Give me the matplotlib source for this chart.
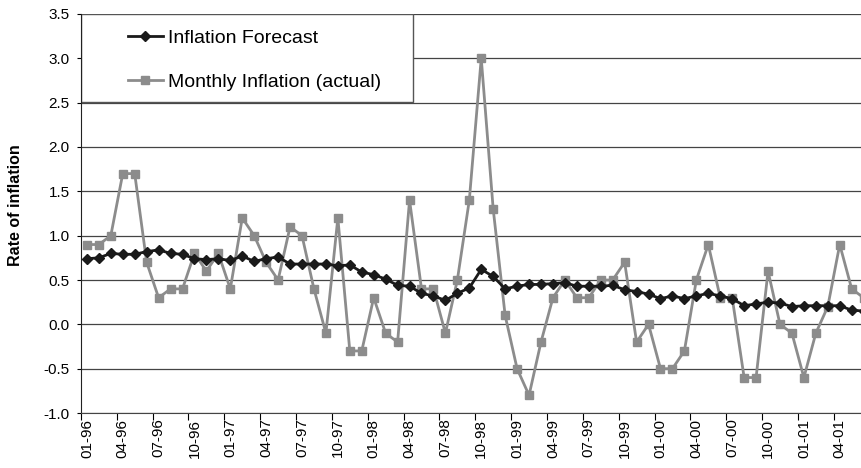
import matplotlib
matplotlib.use("Agg")
import matplotlib.pyplot as plt
from matplotlib.patches import Rectangle

plt.rcParams['font.family'] = ['Liberation Sans', 'DejaVu Sans']
plt.rcParams['axes.unicode_minus'] = True

# monthly data, 01-96 .. 06-01
forecast = [0.74, 0.75, 0.80, 0.79, 0.79, 0.82, 0.84, 0.80, 0.79, 0.74, 0.73, 0.74, 0.72, 0.77, 0.71, 0.74, 0.76,
            0.68, 0.68, 0.68, 0.68, 0.66, 0.67, 0.59, 0.56, 0.51, 0.44, 0.43, 0.35, 0.32, 0.27, 0.35, 0.41,
            0.62, 0.54, 0.40, 0.43, 0.45, 0.45, 0.46, 0.47, 0.43, 0.43, 0.43, 0.44, 0.39, 0.37, 0.34, 0.29,
            0.32, 0.29, 0.32, 0.35, 0.32, 0.29, 0.21, 0.23, 0.25, 0.24, 0.20, 0.21, 0.21, 0.21, 0.21, 0.16, 0.15]
actual = [0.9, 0.9, 1.0, 1.7, 1.7, 0.7, 0.3, 0.4, 0.4, 0.8, 0.6, 0.8, 0.4, 1.2, 1.0, 0.7, 0.5,
          1.1, 1.0, 0.4, -0.1, 1.2, -0.3, -0.3, 0.3, -0.1, -0.2, 1.4, 0.4, 0.4, -0.1, 0.5, 1.4,
          3.0, 1.3, 0.1, -0.5, -0.8, -0.2, 0.3, 0.5, 0.3, 0.3, 0.5, 0.5, 0.7, -0.2, 0.0, -0.5,
          -0.5, -0.3, 0.5, 0.9, 0.3, 0.3, -0.6, -0.6, 0.6, 0.0, -0.1, -0.6, -0.1, 0.2, 0.9, 0.4, 0.3]
tick_labels = ['01-96', '04-96', '07-96', '10-96', '01-97', '04-97', '07-97', '10-97',
               '01-98', '04-98', '07-98', '10-98', '01-99', '04-99', '07-99', '10-99',
               '01-00', '04-00', '07-00', '10-00', '01-01', '04-01']
y_ticks = [-1.0, -0.5, 0.0, 0.5, 1.0, 1.5, 2.0, 2.5, 3.0, 3.5]

months = list(range(len(actual)))

fig = plt.figure(figsize=(8.61, 4.68), dpi=100)
ax = fig.add_axes([0.094, 0.1175, 0.916, 0.8526])

ax.plot(months, forecast, color='#1a1a1a', lw=2, marker='D', ms=5.5, zorder=4,
        label='Inflation Forecast')
ax.plot(months, actual, color='#8c8c8c', lw=2, marker='s', ms=6, zorder=3,
        label='Monthly Inflation (actual)')

ax.set_xlim(-0.5, len(actual) - 0.5)
ax.set_ylim(-1.0, 3.5)
ax.set_yticks(y_ticks)
ax.set_yticklabels([f'{v:.1f}' for v in y_ticks], fontsize=11)
ax.yaxis.grid(True, color='#444444', lw=0.9)
ax.set_axisbelow(True)
ax.tick_params(axis='y', length=3, width=0.8, pad=5)

# labels sit on the months, ticks on the month boundaries
ax.set_xticks(months[::3])
ax.set_xticklabels(tick_labels, rotation=90, fontsize=11)
ax.set_xticks([m - 0.5 for m in months[::3]], minor=True)
ax.tick_params(axis='x', which='major', length=0, pad=4)
ax.tick_params(axis='x', which='minor', length=5, width=0.8)

for s in ['top', 'right']:
    ax.spines[s].set_visible(False)
ax.spines['left'].set_color('#222222')
ax.spines['bottom'].set_color('#444444')

ax.set_ylabel('Rate of inflation', fontsize=11.5, fontweight='bold')
ax.yaxis.set_label_coords(-0.074, 0.52)

# legend box
ax.add_patch(Rectangle((0, 0.779), 0.421, 0.221, transform=ax.transAxes,
                       facecolor='white', edgecolor='#555555', lw=1, zorder=2.5))
ax.legend(loc='upper left', bbox_to_anchor=(0.0595, 0.962), frameon=False, fontsize=14,
          handlelength=1.8, handletextpad=0.26, labelspacing=1.37, borderpad=0,
          borderaxespad=0)

fig.savefig('out.png', dpi=100)
